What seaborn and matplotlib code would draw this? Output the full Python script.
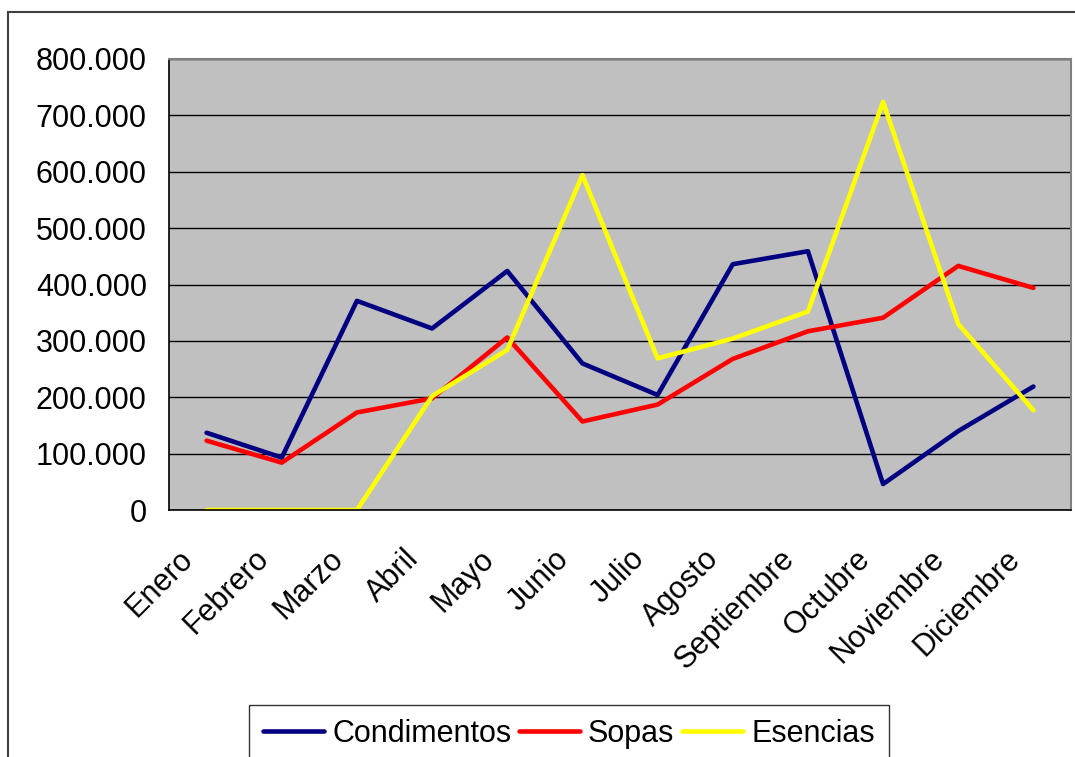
import pandas as pd
import matplotlib
matplotlib.use("Agg")
import matplotlib.pyplot as plt
import matplotlib.ticker as mticker
import matplotlib.transforms as mtransforms
from matplotlib.patches import Rectangle
import seaborn as sns

# Data
meses = ['Enero', 'Febrero', 'Marzo', 'Abril', 'Mayo', 'Junio', 'Julio',
         'Agosto', 'Septiembre', 'Octubre', 'Noviembre', 'Diciembre']
condimentos = [137000, 93000, 371000, 322000, 424000, 260000, 204000,
               436000, 459000, 46000, 140000, 219000]
sopas = [123000, 84000, 173000, 198000, 306000, 157000, 187000,
         268000, 317000, 341000, 433000, 394000]
esencias = [0, 0, 0, 202000, 284000, 594000, 269000,
            304000, 352000, 724000, 330000, 177000]

series = {'Condimentos': condimentos, 'Sopas': sopas, 'Esencias': esencias}
colores = {'Condimentos': '#000080', 'Sopas': '#FF0000', 'Esencias': '#FFFF00'}

rows = []
for nombre, valores in series.items():
    for i, v in enumerate(valores):
        rows.append({'pos': i, 'valor': v, 'serie': nombre})
df = pd.DataFrame(rows)

sns.set_style("white")
plt.rcParams['font.family'] = ['Liberation Sans', 'DejaVu Sans']
plt.rcParams['text.color'] = 'black'
plt.rcParams['xtick.color'] = 'black'
plt.rcParams['ytick.color'] = 'black'
plt.rcParams['xtick.labelcolor'] = 'black'
plt.rcParams['ytick.labelcolor'] = 'black'

fig = plt.figure(figsize=(10.75, 7.57), dpi=100)
ax = fig.add_axes([169 / 1075, 1 - 510 / 757, (1071 - 169) / 1075, (510 - 59) / 757])
ax.set_facecolor('#C0C0C0')

sns.lineplot(data=df, x='pos', y='valor', hue='serie', palette=colores,
             linewidth=3.3, sort=False, ax=ax, legend=True)

# y axis
ax.set_ylim(0, 800000)
ax.yaxis.set_major_locator(mticker.MultipleLocator(100000))
ax.yaxis.set_major_formatter(mticker.FuncFormatter(
    lambda v, p: f"{v:,.0f}".replace(",", ".")))
ax.grid(axis='y', color='black', linewidth=1)
ax.set_axisbelow(True)
ax.tick_params(axis='y', length=7, width=1, color='black', direction='out',
               labelsize=22, pad=9)

# x axis: labels at centers, ticks at boundaries
ax.set_xlim(-0.5, 11.5)
ax.set_xticks([i - 0.5 for i in range(13)], minor=True)
ax.tick_params(axis='x', which='minor', length=7, width=1, color='black', direction='out')
ax.tick_params(axis='x', which='major', length=0, pad=32)
ax.set_xticks(range(12))
ax.set_xticklabels(meses, fontsize=22, rotation=45, ha='right', va='center',
                   rotation_mode='anchor')
desplaza = mtransforms.ScaledTranslation(-18 / 100, 0, fig.dpi_scale_trans)
for lab in ax.get_xticklabels():
    lab.set_transform(lab.get_transform() + desplaza)
ax.set_xlabel('')
ax.set_ylabel('')

for s in ['top', 'right']:
    ax.spines[s].set_color('#808080')
    ax.spines[s].set_linewidth(1.5)
for s in ['left', 'bottom']:
    ax.spines[s].set_color('black')
    ax.spines[s].set_linewidth(1.2)

# legend below the plot
handles, labels = ax.get_legend_handles_labels()
ax.legend_.remove()
leg = fig.legend(handles, labels, loc='upper center', ncol=3,
                 bbox_to_anchor=(569 / 1075, 1 - 705 / 757), fontsize=22,
                 frameon=True, fancybox=False, edgecolor='black',
                 handlelength=2.0, handletextpad=0.26, columnspacing=0.25,
                 borderpad=0.45, borderaxespad=0)
leg.get_frame().set_linewidth(1)
for h in leg.get_lines():
    h.set_linewidth(3.3)

# chart area border
fig.patches.append(Rectangle((8 / 1075, -0.2), 1.2, 1.2 - 12 / 757,
                             transform=fig.transFigure, fill=False,
                             edgecolor='#404040', linewidth=1.5))

fig.savefig('out.png', dpi=100)
